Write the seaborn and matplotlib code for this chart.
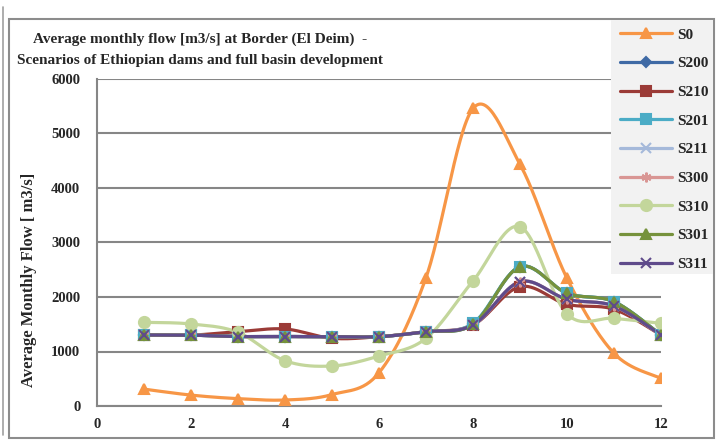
import numpy as np
import pandas as pd
import matplotlib
matplotlib.use("Agg")
import matplotlib.pyplot as plt
from matplotlib.patches import Rectangle
from matplotlib.lines import Line2D
import seaborn as sns

# Monthly average flow [m3/s] at El Deim for each scenario
months = [1, 2, 3, 4, 5, 6, 7, 8, 9, 10, 11, 12]
S0   = [310, 200, 135, 110, 210, 610, 2355, 5460, 4435, 2343, 967, 508]
S200 = [1303, 1300, 1275, 1275, 1272, 1272, 1364, 1500, 2556, 2068, 1914, 1303]
S210 = [1303, 1300, 1364, 1413, 1242, 1272, 1364, 1486, 2190, 1866, 1774, 1303]
S201 = [1303, 1300, 1275, 1275, 1272, 1272, 1364, 1517, 2556, 2068, 1914, 1303]
S211 = [1303, 1300, 1275, 1275, 1272, 1272, 1364, 1486, 2281, 1958, 1835, 1303]
S300 = [1303, 1300, 1275, 1275, 1272, 1272, 1364, 1486, 2281, 1958, 1835, 1303]
S310 = [1535, 1505, 1352, 831, 734, 917, 1242, 2294, 3290, 1688, 1609, 1517]
S301 = [1303, 1300, 1275, 1275, 1272, 1272, 1364, 1500, 2556, 2068, 1914, 1303]
S311 = [1303, 1300, 1275, 1275, 1272, 1272, 1364, 1486, 2281, 1958, 1835, 1303]

scenario_names = ["S0", "S200", "S210", "S201", "S211", "S300", "S310", "S301", "S311"]
scenario_values = [S0, S200, S210, S201, S211, S300, S310, S301, S311]

title_text = ("Average monthly flow [m3/s] at Border (El Deim)  -\n"
              "Scenarios of Ethiopian dams and full basin development")
ylabel_text = "Average Monthly Flow [ m3/s]"
x_ticks = [0, 2, 4, 6, 8, 10, 12]
y_ticks = [0, 1000, 2000, 3000, 4000, 5000, 6000]

styles = {
    "S0":   dict(color="#F79646", marker="^", ms=7),
    "S200": dict(color="#3F6AA5", marker="D", ms=5),
    "S210": dict(color="#9B3B37", marker="s", ms=7),
    "S201": dict(color="#4BACC6", marker="s", ms=7),
    "S211": dict(color="#A5B9DA", marker="x", ms=7),
    "S300": dict(color="#D99694", marker=(6, 2, 0), ms=7),
    "S310": dict(color="#C3D69B", marker="o", ms=8),
    "S301": dict(color="#76923C", marker="^", ms=7),
    "S311": dict(color="#5F4B8B", marker="x", ms=7),
}


def smooth_curve(x, y, steps=30):
    """Catmull-Rom spline through the points, like a smoothed line chart."""
    x = np.asarray(x, float)
    y = np.asarray(y, float)
    px = np.concatenate([[x[0]], x, [x[-1]]])
    py = np.concatenate([[y[0]], y, [y[-1]]])
    xs, ys = [], []
    t = np.linspace(0, 1, steps, endpoint=False)
    for i in range(1, len(px) - 2):
        p0, p1, p2, p3 = (np.array([px[j], py[j]]) for j in (i - 1, i, i + 1, i + 2))
        c1 = p1 + (p2 - p0) / 6.0
        c2 = p2 - (p3 - p1) / 6.0
        b = ((1 - t) ** 3)[:, None] * p1 + (3 * (1 - t) ** 2 * t)[:, None] * c1 \
            + (3 * (1 - t) * t ** 2)[:, None] * c2 + (t ** 3)[:, None] * p2
        xs.append(b[:, 0])
        ys.append(b[:, 1])
    xs.append([x[-1]])
    ys.append([y[-1]])
    return np.concatenate(xs), np.concatenate(ys)


sns.set_theme(style="white")
plt.rcParams["font.family"] = ["Liberation Serif", "DejaVu Serif"]
plt.rcParams["font.weight"] = "bold"

fig = plt.figure(figsize=(7.23, 4.41), dpi=100)
W, H = 723, 441

# chart frame
fig.add_artist(Rectangle((9 / W, 1 - 438 / H), (714 - 9) / W, (438 - 19) / H,
                         transform=fig.transFigure, fill=False,
                         edgecolor="#8C8C8C", lw=1.5))
fig.add_artist(Line2D([3 / W, 3 / W], [1 - 7 / H, 1 - 435 / H],
                      transform=fig.transFigure, color="#A0A0A0", lw=1.2))

ax = fig.add_axes([97 / W, 1 - 406 / H, (661 - 97) / W, (406 - 79) / H])
ax.set_facecolor("white")

for name, vals in zip(scenario_names, scenario_values):
    st = styles[name]
    sx, sy = smooth_curve(months, vals)
    sns.lineplot(x=sx, y=sy, ax=ax, color=st["color"], lw=2.3,
                 sort=False, estimator=None, legend=False, zorder=3)
    ax.plot(months, vals, linestyle="none", marker=st["marker"],
            markersize=st["ms"], color=st["color"],
            markeredgecolor=st["color"], markeredgewidth=1.5, zorder=4)

ax.set_xlim(0, 12)
ax.set_ylim(0, 6000)
ax.set_xticks(x_ticks)
ax.set_yticks(y_ticks)
ax.set_xticklabels([str(v) for v in x_ticks], fontsize=10.5, fontweight="bold")
ax.set_yticklabels([str(v) for v in y_ticks], fontsize=10.5, fontweight="bold")
ax.tick_params(axis="y", length=0, pad=12)
ax.tick_params(axis="x", length=0, pad=9)
ax.yaxis.grid(True, color="#868686", lw=1.5)
ax.xaxis.grid(False)
for side in ("top", "right"):
    ax.spines[side].set_visible(False)
for side in ("left", "bottom"):
    ax.spines[side].set_color("#868686")
    ax.spines[side].set_linewidth(1.5)
ax.set_axisbelow(True)

ax.set_ylabel(ylabel_text, fontsize=12, fontweight="bold")
ax.yaxis.set_label_coords((37 - 97) / 564, (406 - 280) / 327)

fig.text(200 / W, 1 - 50 / H, title_text, ha="center", va="center",
         fontsize=11, fontweight="bold", linespacing=1.8)

# legend panel
fig.add_artist(Rectangle((611 / W, 1 - 274 / H), (713 - 611) / W, (274 - 20) / H,
                         transform=fig.transFigure, facecolor="#F2F2F2",
                         edgecolor="none", zorder=1))
handles = [Line2D([0], [0], color=styles[n]["color"], lw=2.3,
                  marker=styles[n]["marker"], markersize=styles[n]["ms"],
                  markeredgecolor=styles[n]["color"], markeredgewidth=1.5)
           for n in scenario_names]
fig.legend(handles, scenario_names, loc="upper left",
           bbox_to_anchor=(617 / W, 1 - 25 / H), frameon=False,
           prop={"family": "Liberation Serif", "weight": "bold", "size": 11},
           handlelength=3.4, labelspacing=0.98, handletextpad=0.35,
           borderaxespad=0, borderpad=0.2)

fig.savefig("out.png", dpi=100)
